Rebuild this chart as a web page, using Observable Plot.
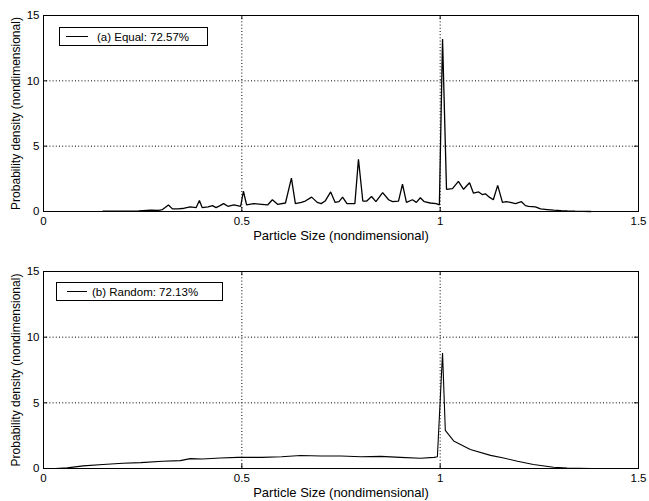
<!DOCTYPE html>
<html><head><meta charset="utf-8">
<script src="https://cdn.jsdelivr.net/npm/d3@7"></script>
<script src="https://cdn.jsdelivr.net/npm/@observablehq/plot@0.6"></script>
<style>
html,body{margin:0;padding:0;background:#fff;}
#wrap{position:relative;width:649px;height:501px;font-family:"Liberation Sans",Arial,Helvetica,sans-serif;}
#wrap svg{display:block;}
.legend{position:absolute;box-sizing:border-box;border:1px solid #000;background:#fff;font-size:11.5px;color:#000;display:flex;align-items:center;white-space:nowrap;}
.legend .sw{display:inline-block;height:0;border-top:1.2px solid #000;}
</style></head>
<body><div id="wrap"></div>
<script>
// ---- data ----
const xTicks = [0, 0.5, 1, 1.5];
const yTicks = [0, 5, 10, 15];
const xGrid = [0.5, 1];
const yGrid = [5, 10];
const xLabel = "Particle Size (nondimensional)";
const yLabel = "Probability density (nondimensional)";
const legendA = "(a) Equal: 72.57%";
const legendB = "(b) Random: 72.13%";

const equalX = [0.15,0.20,0.24,0.27,0.29,0.30,0.315,0.325,0.34,0.355,0.37,0.385,0.393,0.40,0.415,0.426,0.435,0.445,0.454,0.465,0.48,0.497,0.504,0.512,0.53,0.55,0.565,0.577,0.59,0.61,0.625,0.635,0.65,0.66,0.676,0.69,0.70,0.71,0.724,0.735,0.745,0.754,0.765,0.785,0.794,0.805,0.815,0.827,0.838,0.855,0.87,0.88,0.895,0.905,0.915,0.93,0.94,0.95,0.96,0.975,0.99,0.998,1.006,1.016,1.031,1.046,1.059,1.074,1.084,1.097,1.106,1.114,1.124,1.134,1.145,1.157,1.167,1.177,1.19,1.205,1.215,1.223,1.24,1.253,1.27,1.286,1.305,1.321,1.34,1.361,1.38];
const equalY = [0.02,0.03,0.05,0.1,0.08,0.15,0.5,0.2,0.2,0.25,0.35,0.3,0.85,0.3,0.35,0.45,0.3,0.45,0.6,0.4,0.5,0.4,1.55,0.5,0.6,0.55,0.5,0.9,0.55,0.65,2.55,0.6,0.7,0.8,1.1,0.7,0.6,0.8,1.5,0.7,0.75,1.1,0.6,0.6,4.0,0.8,0.8,1.15,0.75,1.45,0.9,0.75,0.8,2.1,0.7,0.9,0.7,1.05,0.75,0.65,0.6,0.5,13.2,1.7,1.75,2.3,1.7,2.2,1.4,1.5,1.3,1.35,1.1,0.9,2.0,0.7,0.75,0.7,0.6,0.75,0.45,0.4,0.35,0.2,0.15,0.1,0.07,0.05,0.03,0.01,0.0];

const randomX = [0.03,0.06,0.1,0.15,0.2,0.245,0.3,0.345,0.37,0.4,0.446,0.49,0.55,0.6,0.648,0.7,0.75,0.8,0.85,0.9,0.95,0.985,0.993,1.006,1.013,1.034,1.076,1.127,1.16,1.195,1.235,1.286,1.32,1.38];
const randomY = [0.0,0.05,0.2,0.3,0.4,0.45,0.55,0.6,0.75,0.72,0.8,0.85,0.85,0.9,0.99,0.95,0.95,0.9,0.92,0.85,0.78,0.85,0.9,8.8,2.9,2.1,1.45,1.0,0.8,0.55,0.3,0.1,0.03,0.0];

// ---- drawing ----
const W = 649, ML = 43, MR = 11;
function panel(xs, ys, height, marginTop, marginBottom, lineWidth) {
  const data = xs.map((x, i) => ({x, y: ys[i]}));
  const innerW = W - ML - MR, innerH = height - marginTop - marginBottom;
  const tickLen = 4;
  return Plot.plot({
    width: W, height, marginLeft: ML, marginRight: MR, marginTop, marginBottom,
    style: {fontFamily: '"Liberation Sans", Arial, Helvetica, sans-serif', fontSize: "11.5px", color: "#000", background: "#fff"},
    x: {domain: [0, 1.5]},
    y: {domain: [0, 15]},
    marks: [
      Plot.ruleX(xGrid, {stroke: "#000", strokeDasharray: "1,2.2", strokeWidth: 1}),
      Plot.ruleY(yGrid, {stroke: "#000", strokeDasharray: "1,2.2", strokeWidth: 1}),
      // inward tick marks (bottom, top, left, right)
      Plot.ruleX(xTicks, {stroke: "#000", insetTop: innerH - tickLen}),
      Plot.ruleX(xTicks, {stroke: "#000", insetBottom: innerH - tickLen}),
      Plot.ruleY(yTicks, {stroke: "#000", insetRight: innerW - tickLen}),
      Plot.ruleY(yTicks, {stroke: "#000", insetLeft: innerW - tickLen}),
      Plot.lineY(data, {x: "x", y: "y", stroke: "#000", strokeWidth: lineWidth, strokeLinejoin: "miter"}),
      Plot.frame({stroke: "#000", strokeWidth: 1}),
      Plot.axisX({ticks: xTicks, tickSize: 0, tickPadding: 5, tickFormat: d => String(d), label: null}),
      Plot.axisY({ticks: yTicks, tickSize: 0, tickPadding: 4, tickFormat: d => String(d), label: null}),
      Plot.text([xLabel], {text: d => d, frameAnchor: "bottom", dy: 24, lineAnchor: "middle", textAnchor: "middle", fontSize: 13, fill: "#000"}),
      Plot.text([yLabel], {text: d => d, frameAnchor: "left", dx: -27, rotate: -90, lineAnchor: "middle", textAnchor: "middle", fontSize: 12, fill: "#000"})
    ]
  });
}

const wrap = document.getElementById("wrap");
wrap.appendChild(panel(equalX, equalY, 252, 15, 41, 1.3));
wrap.appendChild(panel(randomX, randomY, 249, 19, 33, 1.1));

function legend(text, left, top, width, lineL, lineW, gap) {
  const d = document.createElement("div");
  d.className = "legend";
  Object.assign(d.style, {left: left + "px", top: top + "px", width: width + "px", height: "19px"});
  const sw = document.createElement("span");
  sw.className = "sw";
  Object.assign(sw.style, {marginLeft: lineL + "px", width: lineW + "px", marginRight: gap + "px"});
  const t = document.createElement("span");
  t.textContent = text;
  d.appendChild(sw); d.appendChild(t);
  wrap.appendChild(d);
}
legend(legendA, 59, 27, 149, 6, 22, 9);
legend(legendB, 56, 282, 167, 10, 20, 5);
</script>
</body></html>
